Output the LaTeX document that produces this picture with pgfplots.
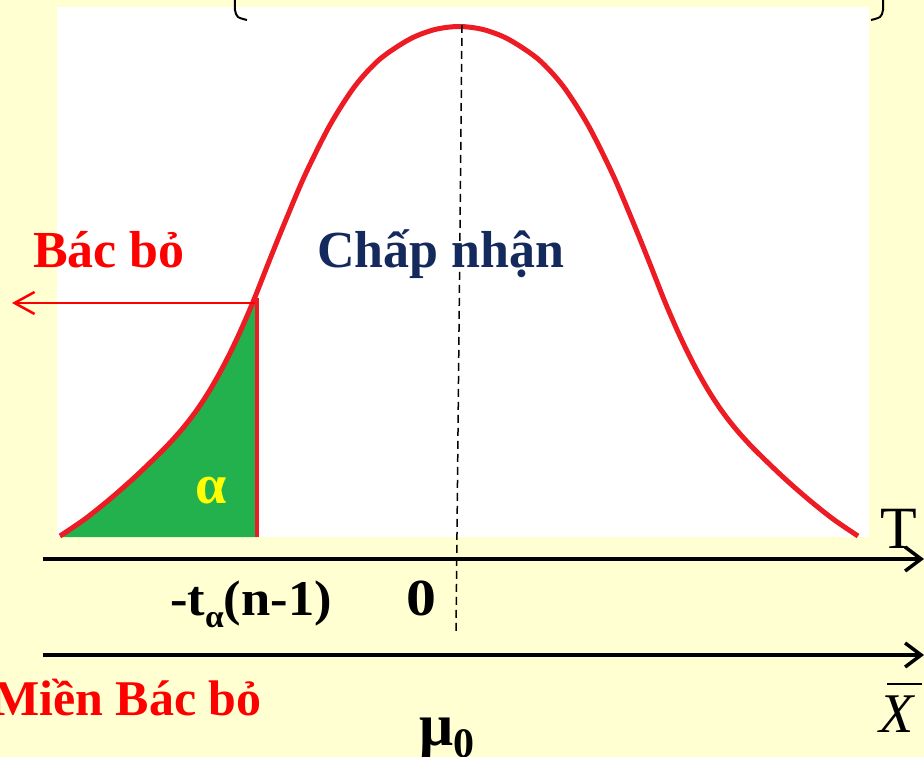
\documentclass[border=0pt]{standalone}
\usepackage{pgfplots}
\pgfplotsset{compat=1.18}
\usepackage{fontspec}
\setmainfont{Liberation Serif}
\usepackage{graphicx}
\usetikzlibrary{arrows.meta}
\definecolor{bgyellow}{RGB}{255,255,210}
\definecolor{curvered}{RGB}{237,28,36}
\definecolor{areagreen}{RGB}{34,177,76}
\definecolor{navy}{RGB}{20,42,92}
\definecolor{txtred}{RGB}{255,0,0}
\definecolor{alphay}{RGB}{255,255,0}
\begin{document}
\begin{tikzpicture}
\useasboundingbox (0,0) rectangle (924pt,757pt);
\clip (0,0) rectangle (924pt,757pt);
\fill[bgyellow] (0,0) rectangle (924pt,757pt);
\begin{axis}[at={(0,0)}, anchor=south west, width=924pt, height=757pt, scale only axis,
  xmin=0, xmax=924, ymin=0, ymax=757, y dir=reverse, hide axis, clip=false]
% white panel
\addplot[fill=white, draw=none] coordinates {(57,7) (869,7) (869,537) (57,537)} -- cycle;
% rejection area
\addplot[fill=areagreen, draw=none] coordinates {(60,536) (85,519) (110,499) (135,477) (160,453) (170,442.7) (180,431.6) (190,419.3) (200,405.5) (210,389.9) (220,372.4) (230,353.1) (240,332) (253,302) (257,292) (257,537) (60,537)} -- cycle;
% critical value line
\addplot[curvered, line width=4pt] coordinates {(257,298) (257,537)};
% density curve
\addplot[curvered, line width=5pt, smooth] coordinates {
(60,536) (85,519) (110,499) (135,477) (160,453) (170,442.7) (180,431.6) (190,419.3) (200,405.5) (210,389.9) (220,372.4) (230,353.1) (240,332) (253,302) (270,259) (285,222) (305,175) (330,125) (355,86) (380,59) (410,39) (435,29.5) (459,26.5)
(483,29.5) (508,39) (538,59) (563,86) (588,125) (613,175) (633,222) (648,259) (665,302) (678,332) (688,353.1) (698,372.4) (708,389.9) (718,405.5) (728,419.3) (738,431.6) (748,442.7) (758,453) (783,477) (808,499) (833,519) (858,536)};
% dashed center line
\addplot[black, line width=1.5pt, dash pattern=on 8pt off 5pt] coordinates {(462,25) (456,635)};
% red arrow
\addplot[txtred, line width=2.5pt, -{Straight Barb[length=20pt,width=22pt]}] coordinates {(255,303) (12,303)};
% axes arrows
\addplot[black, line width=3.5pt, -{Straight Barb[length=16pt,width=24pt]}] coordinates {(43,559) (924,559)};
\addplot[black, line width=3.5pt, -{Straight Barb[length=16pt,width=24pt]}] coordinates {(43,655) (924,655)};
% brackets at top
\addplot[black, line width=2pt, smooth] coordinates {(235,-5) (235,10) (238,17) (247,20)};
\addplot[black, line width=2pt, smooth] coordinates {(883,-5) (883,10) (880,17) (871,20)};
% xbar
\addplot[black, line width=2pt] coordinates {(887,684) (922,684)};
% texts
\node[anchor=base west, inner sep=0pt, text=txtred, font=\fontsize{52}{60}\selectfont\bfseries] at (axis cs:33,267) {Bác bỏ};
\node[anchor=base west, inner sep=0pt, text=navy, font=\fontsize{52}{60}\selectfont\bfseries] at (axis cs:317,267) {Chấp nhận};
\node[anchor=base, inner sep=0pt, text=alphay, font=\fontsize{56}{60}\selectfont\bfseries] at (axis cs:211,503) {α};
\node[anchor=base west, inner sep=0pt, font=\fontsize{50}{56}\selectfont\bfseries] at (axis cs:170,615) {\scalebox{1.05}[1]{-t\raisebox{-0.25em}{\fontsize{32}{36}\selectfont α}(n-1)}};
\node[anchor=base west, inner sep=0pt, font=\fontsize{52}{56}\selectfont\bfseries] at (axis cs:406,615) {\scalebox{1.15}[1]{0}};
\node[anchor=base west, inner sep=0pt, text=txtred, font=\fontsize{50}{60}\selectfont\bfseries] at (axis cs:-8,715) {Miền Bác bỏ};
\node[anchor=base west, inner sep=0pt, font=\fontsize{60}{64}\selectfont\bfseries] at (axis cs:419,745) {μ\raisebox{-0.2em}{\fontsize{42}{46}\selectfont 0}};
\node[anchor=base west, inner sep=0pt, font=\fontsize{60}{64}\selectfont] at (axis cs:880,548) {T};
\node[anchor=base west, inner sep=0pt, font=\fontsize{56}{60}\selectfont\itshape] at (axis cs:879,732) {X};
\end{axis}
\end{tikzpicture}
\end{document}
